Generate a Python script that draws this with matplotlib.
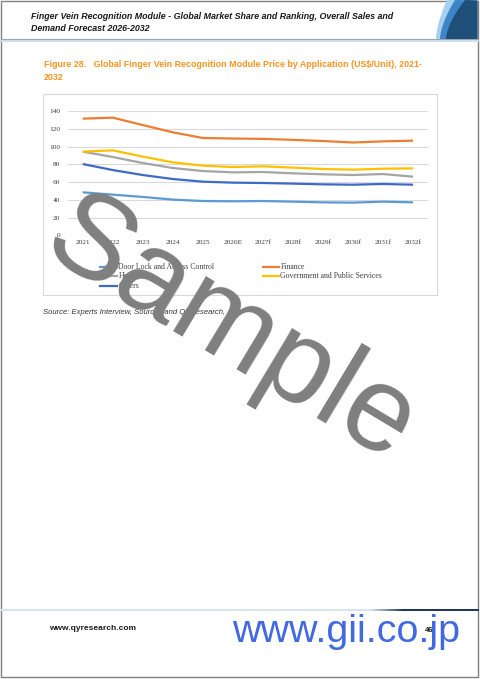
import matplotlib
matplotlib.use('Agg')
import matplotlib.pyplot as plt
from matplotlib.lines import Line2D
from matplotlib.patches import Rectangle, Polygon
import numpy as np

# ---------------- data ----------------
years = ['2021', '2022', '2023', '2024', '2025', '2026E', '2027f', '2028f',
         '2029f', '2030f', '2031f', '2032f']
door_lock = [48.4, 45.8, 43.2, 40.2, 38.6, 38.3, 38.6, 37.9, 37.1, 36.8, 37.9, 37.1]
finance = [131.4, 132.5, 124.2, 116.0, 109.6, 109.0, 108.6, 107.5, 106.2, 104.5, 105.8, 106.6]
healthcare = [94.2, 88.2, 81.4, 75.8, 72.4, 70.9, 71.3, 69.8, 68.7, 67.9, 69.0, 66.0]
government = [94.2, 95.7, 88.6, 82.2, 78.4, 76.9, 77.7, 76.2, 74.7, 73.9, 75.0, 75.4]
others = [80.3, 73.5, 67.9, 63.4, 60.4, 59.3, 58.9, 58.2, 57.4, 57.0, 57.8, 57.0]
series_names = ['Door Lock and Access Control', 'Finance', 'Healthcare',
                'Government and Public Services', 'Others']
series_values = [door_lock, finance, healthcare, government, others]
series_colors = ['#5B9BD5', '#ED7D31', '#A5A5A5', '#FFC000', '#3F6AC4']
yticks = [0, 20, 40, 60, 80, 100, 120, 140]

header_title = ['Finger Vein Recognition Module - Global Market Share and Ranking, Overall Sales and',
                'Demand Forecast 2026-2032']
caption = ['Figure 28.   Global Finger Vein Recognition Module Price by Application (US$/Unit), 2021-',
           '2032']
source_text = 'Source: Experts Interview, Sources and QYResearch,'

W, H = 480, 679
fig = plt.figure(figsize=(W / 100, H / 100), dpi=100)
fig.patch.set_facecolor('white')


def fx(x):
    return x / W


def fy(y):
    return 1 - y / H


renderer = fig.canvas.get_renderer()


def fit_text(s, x0, x1, y, size, va='center', **kw):
    t = fig.text(fx(x0), fy(y), s, fontsize=size, va=va, ha='left', **kw)
    w = t.get_window_extent(renderer=renderer).width
    t.set_fontsize(size * (x1 - x0) / w)
    return t


# ---------------- page frame & header ----------------
fig.add_artist(Rectangle((fx(0.5), fy(677)), fx(477), (677 - 0.5) / H,
                         transform=fig.transFigure, fill=False,
                         edgecolor='#808080', lw=1.0, zorder=1))
fig.add_artist(Line2D([fx(0.5), fx(477.5)], [fy(39.3), fy(39.3)],
                      transform=fig.transFigure, color='#9AA5AE', lw=0.8, zorder=2))
fig.add_artist(Line2D([fx(0.5), fx(477.5)], [fy(41.2), fy(41.2)],
                      transform=fig.transFigure, color='#C9DDEB', lw=1.3, zorder=2))


def swoosh(xt, xb, color):
    t = np.linspace(0, 1, 30)
    xs = xt + (xb - xt) * (1 - (1 - t) ** 1.6)
    ys = 39 * t
    pts = [(fx(a), fy(b)) for a, b in zip(xs, ys)]
    pts += [(fx(477.5), fy(39)), (fx(477.5), fy(0.5))]
    fig.add_artist(Polygon(pts, closed=True, transform=fig.transFigure,
                           facecolor=color, edgecolor='none', zorder=2))


swoosh(447, 436, '#A9CFEE')
swoosh(455, 440, '#3C86C8')
swoosh(465, 446, '#1F4F78')

t1 = fit_text(header_title[0], 31, 396, 16.7, 6.5, fontfamily='Liberation Sans',
              fontweight='bold', fontstyle='italic', color='#1A1A1A')
fig.text(fx(31), fy(28.5), header_title[1], fontfamily='Liberation Sans',
         fontweight='bold', fontstyle='italic', color='#1A1A1A', va='center',
         fontsize=t1.get_fontsize())

cap1 = fit_text(caption[0], 44, 424, 64.3, 7, fontfamily='Liberation Sans',
                fontweight='bold', color='#F7941D')
fig.text(fx(44), fy(77.7), caption[1], fontfamily='Liberation Sans', fontweight='bold',
         color='#F7941D', va='center', fontsize=cap1.get_fontsize())

# ---------------- chart box ----------------
fig.add_artist(Rectangle((fx(43), fy(295)), fx(437 - 43), (295 - 94) / H,
                         transform=fig.transFigure, facecolor='white',
                         edgecolor='#D9D9D9', lw=0.8, zorder=1))

ax = fig.add_axes([fx(67.7), fy(235.3), fx(428 - 67.7), (235.3 - 111) / H])
ax.set_facecolor('none')
ax.set_zorder(3)
x = np.arange(len(years))
for vals, c in zip(series_values, series_colors):
    ax.plot(x, vals, color=c, lw=1.6, solid_capstyle='butt', zorder=3)
ax.set_xlim(-0.5, len(years) - 0.5)
ax.set_ylim(0, 140)
ax.set_yticks(yticks)
ax.set_xticks(x)
ax.set_xticklabels(years)
for s in ax.spines.values():
    s.set_visible(False)
ax.yaxis.grid(True, color='#D9D9D9', lw=0.8)
ax.set_axisbelow(True)
ax.tick_params(axis='both', length=0, labelsize=5.3, labelcolor='#404040')
ax.tick_params(axis='y', pad=5.5)
ax.tick_params(axis='x', pad=3.5)
for lab in ax.get_xticklabels() + ax.get_yticklabels():
    lab.set_fontfamily('Liberation Serif')

# ---------------- legend (two columns, row-major) ----------------
col_x = [(100, 117, 118.5), (263, 279, 280.5)]
row_y = [266.7, 276.2, 285.7]
for i, (name, c) in enumerate(zip(series_names, series_colors)):
    r, col = divmod(i, 2)
    x0, x1, xt = col_x[col]
    yy = row_y[r]
    fig.add_artist(Line2D([fx(x0), fx(x1)], [fy(yy), fy(yy)], transform=fig.transFigure,
                          color=c, lw=1.6, zorder=4))
    fig.text(fx(xt), fy(yy), name, fontfamily='Liberation Serif', fontsize=5.6,
             color='#404040', va='center', ha='left', zorder=4)

# ---------------- source ----------------
fit_text(source_text, 43, 226, 312.3, 5, fontfamily='Liberation Sans',
         fontstyle='italic', color='#333333')

# ---------------- footer ----------------
fig.add_artist(Line2D([fx(1), fx(380)], [fy(610), fy(610)], transform=fig.transFigure,
                      color='#D5E5EE', lw=1.4, zorder=2))
xs = np.linspace(370, 477.5, 40)
c0 = np.array([0.84, 0.90, 0.93])
c1 = np.array([0.12, 0.22, 0.33])
for k in range(len(xs) - 1):
    f = min(1.0, k / 12)
    col = c0 * (1 - f) + c1 * f
    fig.add_artist(Line2D([fx(xs[k]), fx(xs[k + 1])], [fy(610), fy(610)],
                          transform=fig.transFigure, color=col, lw=1.4, zorder=2))

fit_text('www.qyresearch.com', 49.3, 137, 628.7, 6, fontfamily='Liberation Sans',
         fontweight='bold', color='#1A1A1A')
fig.text(fx(425), fy(630.5), '46', fontfamily='Liberation Sans', fontweight='bold',
         fontsize=5.5, color='#1A1A1A', va='center', ha='left', zorder=5)
fit_text('www.gii.co.jp', 232, 460, 641.7, 28, va='baseline',
         fontfamily='Liberation Sans', color='#4169E1', zorder=6)

# ---------------- watermark ----------------
fig.text(fx(230), fy(333), 'Sample', fontfamily='Liberation Sans', fontsize=87,
         color='#7F7F7F', rotation=-31, rotation_mode='anchor',
         ha='center', va='center', zorder=10)

fig.savefig('out.png', dpi=100, facecolor='white')
